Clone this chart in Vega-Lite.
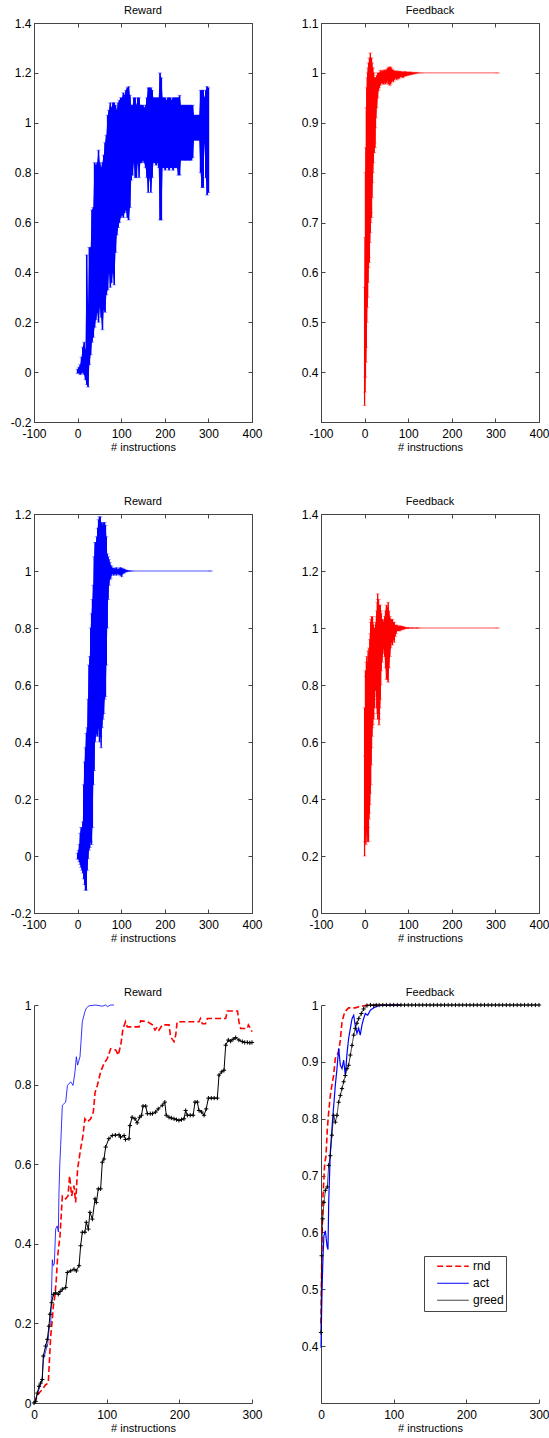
{
"$schema": "https://vega.github.io/schema/vega-lite/v6.json",
"background": "white",
"padding": {"left": 9, "top": 4, "right": 0, "bottom": 0},
"bounds": "flush",
"columns": 2,
"spacing": {"row": 92, "column": 69},
"datasets": {
"p1": [
{"x":0,"lo":-0.005,"hi":0.012},{"x":3,"lo":-0.004,"hi":0.02},{"x":6,"lo":-0.01,"hi":0.03},{"x":9,"lo":-0.005,"hi":0.06},{"x":12,"lo":0,"hi":0.1},{"x":15,"lo":-0.01,"hi":0.12},{"x":18,"lo":-0.03,"hi":0.09},{"x":21,"lo":-0.05,"hi":0.47},{"x":24,"lo":-0.06,"hi":0.27},{"x":27,"lo":0.03,"hi":0.5},{"x":30,"lo":0.07,"hi":0.5},{"x":33,"lo":0.12,"hi":0.65},{"x":36,"lo":0.14,"hi":0.66},{"x":39,"lo":0.18,"hi":0.84},{"x":42,"lo":0.21,"hi":0.83},{"x":45,"lo":0.24,"hi":0.84},{"x":48,"lo":0.2,"hi":0.89},{"x":51,"lo":0.26,"hi":0.84},{"x":54,"lo":0.22,"hi":0.82},{"x":57,"lo":0.17,"hi":0.84},{"x":60,"lo":0.25,"hi":0.87},{"x":63,"lo":0.24,"hi":0.92},{"x":66,"lo":0.31,"hi":0.95},{"x":69,"lo":0.33,"hi":1.03},{"x":72,"lo":0.4,"hi":1.05},{"x":75,"lo":0.34,"hi":1.08},{"x":78,"lo":0.36,"hi":1.06},{"x":81,"lo":0.4,"hi":1.08},{"x":84,"lo":0.35,"hi":1.08},{"x":87,"lo":0.48,"hi":1.07},{"x":90,"lo":0.55,"hi":1.05},{"x":93,"lo":0.58,"hi":1.08},{"x":96,"lo":0.6,"hi":1.09},{"x":99,"lo":0.62,"hi":1.1},{"x":102,"lo":0.63,"hi":1.1},{"x":105,"lo":0.62,"hi":1.12},{"x":108,"lo":0.64,"hi":1.11},{"x":111,"lo":0.65,"hi":1.13},{"x":114,"lo":0.62,"hi":1.14},{"x":117,"lo":0.61,"hi":1.145},{"x":120,"lo":0.66,"hi":1.11},{"x":123,"lo":0.77,"hi":1.07},{"x":126,"lo":0.79,"hi":1.07},{"x":129,"lo":0.84,"hi":1.1},{"x":132,"lo":0.78,"hi":1.1},{"x":135,"lo":0.78,"hi":1.07},{"x":138,"lo":0.84,"hi":1.1},{"x":141,"lo":0.78,"hi":1.1},{"x":144,"lo":0.84,"hi":1.07},{"x":147,"lo":0.84,"hi":1.07},{"x":150,"lo":0.85,"hi":1.07},{"x":153,"lo":0.84,"hi":1.06},{"x":156,"lo":0.82,"hi":1.07},{"x":159,"lo":0.78,"hi":1.1},{"x":162,"lo":0.72,"hi":1.14},{"x":165,"lo":0.78,"hi":1.14},{"x":168,"lo":0.72,"hi":1.14},{"x":171,"lo":0.78,"hi":1.13},{"x":174,"lo":0.84,"hi":1.1},{"x":177,"lo":0.84,"hi":1.1},{"x":180,"lo":0.83,"hi":1.1},{"x":183,"lo":0.84,"hi":1.1},{"x":186,"lo":0.82,"hi":1.1},{"x":189,"lo":0.61,"hi":1.2},{"x":192,"lo":0.61,"hi":1.18},{"x":195,"lo":0.82,"hi":1.1},{"x":198,"lo":0.82,"hi":1.1},{"x":201,"lo":0.81,"hi":1.1},{"x":204,"lo":0.82,"hi":1.09},{"x":207,"lo":0.82,"hi":1.1},{"x":210,"lo":0.81,"hi":1.1},{"x":213,"lo":0.82,"hi":1.1},{"x":216,"lo":0.82,"hi":1.09},{"x":219,"lo":0.81,"hi":1.1},{"x":222,"lo":0.82,"hi":1.1},{"x":225,"lo":0.82,"hi":1.1},{"x":228,"lo":0.82,"hi":1.1},{"x":231,"lo":0.79,"hi":1.1},{"x":234,"lo":0.79,"hi":1.11},{"x":237,"lo":0.85,"hi":1.07},{"x":240,"lo":0.85,"hi":1.07},{"x":243,"lo":0.85,"hi":1.07},{"x":246,"lo":0.85,"hi":1.07},{"x":249,"lo":0.85,"hi":1.07},{"x":252,"lo":0.85,"hi":1.07},{"x":255,"lo":0.85,"hi":1.07},{"x":258,"lo":0.85,"hi":1.07},{"x":261,"lo":0.85,"hi":1.07},{"x":264,"lo":0.86,"hi":1.07},{"x":267,"lo":0.93,"hi":1.03},{"x":270,"lo":0.93,"hi":1.03},{"x":273,"lo":0.93,"hi":1.03},{"x":276,"lo":0.93,"hi":1.03},{"x":279,"lo":0.93,"hi":1.03},{"x":282,"lo":0.8,"hi":1.13},{"x":285,"lo":0.74,"hi":1.13},{"x":288,"lo":0.74,"hi":1.13},{"x":291,"lo":0.92,"hi":1.1},{"x":294,"lo":0.78,"hi":1.13},{"x":297,"lo":0.71,"hi":1.145},{"x":300,"lo":0.72,"hi":1.14}
],
"p2": [
{"x":0,"lo":0.333,"hi":0.57,"m":0.45},{"x":1,"lo":0.36,"hi":0.67,"m":0.52},{"x":2,"lo":0.39,"hi":0.8,"m":0.6},{"x":3,"lo":0.42,"hi":0.85,"m":0.64},{"x":4,"lo":0.45,"hi":0.93,"m":0.69},{"x":5,"lo":0.5,"hi":0.97,"m":0.74},{"x":6,"lo":0.53,"hi":0.99,"m":0.76},{"x":7,"lo":0.55,"hi":1.0,"m":0.78},{"x":8,"lo":0.58,"hi":1.01,"m":0.8},{"x":9,"lo":0.61,"hi":1.02,"m":0.82},{"x":10,"lo":0.63,"hi":1.0,"m":0.82},{"x":11,"lo":0.62,"hi":1.03,"m":0.83},{"x":12,"lo":0.66,"hi":1.02,"m":0.84},{"x":13,"lo":0.68,"hi":1.04,"m":0.86},{"x":14,"lo":0.7,"hi":1.03,"m":0.87},{"x":15,"lo":0.72,"hi":1.02,"m":0.87},{"x":16,"lo":0.71,"hi":1.03,"m":0.87},{"x":17,"lo":0.75,"hi":1.02,"m":0.89},{"x":18,"lo":0.78,"hi":1.01,"m":0.9},{"x":19,"lo":0.8,"hi":1.01,"m":0.9},{"x":20,"lo":0.82,"hi":1.0,"m":0.91},{"x":21,"lo":0.84,"hi":1.0,"m":0.92},{"x":22,"lo":0.84,"hi":0.99,"m":0.92},{"x":23,"lo":0.86,"hi":0.99,"m":0.93},{"x":24,"lo":0.85,"hi":0.99,"m":0.92},{"x":25,"lo":0.89,"hi":0.99,"m":0.94},{"x":26,"lo":0.91,"hi":0.99,"m":0.95},{"x":28,"lo":0.93,"hi":0.995,"m":0.96},{"x":30,"lo":0.95,"hi":1.0,"m":0.975},{"x":32,"lo":0.965,"hi":1.0,"m":0.98},{"x":34,"lo":0.97,"hi":1.0,"m":0.985},{"x":36,"lo":0.975,"hi":1.005,"m":0.99},{"x":38,"lo":0.98,"hi":1.0,"m":0.99},{"x":40,"lo":0.978,"hi":1.005,"m":0.99},{"x":42,"lo":0.98,"hi":1.003,"m":0.99},{"x":44,"lo":0.977,"hi":1.005,"m":0.99},{"x":46,"lo":0.982,"hi":1.006,"m":0.994},{"x":48,"lo":0.978,"hi":1.004,"m":0.99},{"x":50,"lo":0.98,"hi":1.006,"m":0.993},{"x":52,"lo":0.985,"hi":1.008,"m":0.996},{"x":54,"lo":0.977,"hi":1.01,"m":0.994},{"x":56,"lo":0.98,"hi":1.012,"m":0.996},{"x":58,"lo":0.975,"hi":1.01,"m":0.993},{"x":60,"lo":0.978,"hi":1.012,"m":0.995},{"x":62,"lo":0.982,"hi":1.008,"m":0.995},{"x":64,"lo":0.985,"hi":1.006,"m":0.996},{"x":66,"lo":0.982,"hi":1.005,"m":0.994},{"x":68,"lo":0.986,"hi":1.004,"m":0.995},{"x":70,"lo":0.988,"hi":1.003,"m":0.996},{"x":72,"lo":0.99,"hi":1.004,"m":0.997},{"x":74,"lo":0.986,"hi":1.004,"m":0.995},{"x":76,"lo":0.99,"hi":1.002,"m":0.996},{"x":78,"lo":0.988,"hi":1.003,"m":0.996},{"x":80,"lo":0.99,"hi":1.003,"m":0.997},{"x":84,"lo":0.992,"hi":1.003,"m":0.998},{"x":88,"lo":0.99,"hi":1.002,"m":0.996},{"x":92,"lo":0.993,"hi":1.003,"m":0.998},{"x":96,"lo":0.994,"hi":1.002,"m":0.998},{"x":100,"lo":0.995,"hi":1.002,"m":0.999},{"x":105,"lo":0.996,"hi":1.002,"m":0.999},{"x":110,"lo":0.997,"hi":1.001,"m":0.999},{"x":115,"lo":0.998,"hi":1.001,"m":1.0},{"x":120,"lo":0.999,"hi":1.001,"m":1.0},{"x":130,"lo":1.0,"hi":1.0,"m":1.0},{"x":305,"lo":1.0,"hi":1.0,"m":1.0}
],
"p3": [
{"x":0,"lo":-0.01,"hi":0.01,"m":0},{"x":2,"lo":-0.012,"hi":0.02,"m":0.004},{"x":4,"lo":-0.02,"hi":0.04,"m":0.01},{"x":6,"lo":-0.03,"hi":0.08,"m":0.02},{"x":8,"lo":-0.04,"hi":0.1,"m":0.03},{"x":10,"lo":-0.05,"hi":0.1,"m":0.03},{"x":12,"lo":-0.06,"hi":0.12,"m":0.03},{"x":14,"lo":-0.08,"hi":0.25,"m":0.08},{"x":16,"lo":-0.1,"hi":0.33,"m":0.1},{"x":18,"lo":-0.12,"hi":0.38,"m":0.13},{"x":20,"lo":-0.12,"hi":0.43,"m":0.15},{"x":22,"lo":-0.05,"hi":0.45,"m":0.2},{"x":24,"lo":-0.01,"hi":0.55,"m":0.27},{"x":26,"lo":0.02,"hi":0.67,"m":0.34},{"x":28,"lo":0.03,"hi":0.7,"m":0.37},{"x":30,"lo":0.05,"hi":0.8,"m":0.42},{"x":32,"lo":0.04,"hi":0.85,"m":0.45},{"x":34,"lo":0.1,"hi":0.9,"m":0.5},{"x":36,"lo":0.25,"hi":0.95,"m":0.6},{"x":38,"lo":0.3,"hi":1.05,"m":0.67},{"x":40,"lo":0.4,"hi":1.1,"m":0.75},{"x":42,"lo":0.42,"hi":1.1,"m":0.76},{"x":44,"lo":0.43,"hi":1.12,"m":0.78},{"x":46,"lo":0.42,"hi":1.15,"m":0.78},{"x":48,"lo":0.45,"hi":1.18,"m":0.81},{"x":50,"lo":0.4,"hi":1.19,"m":0.8},{"x":52,"lo":0.42,"hi":1.19,"m":0.8},{"x":54,"lo":0.38,"hi":1.17,"m":0.78},{"x":56,"lo":0.45,"hi":1.17,"m":0.81},{"x":58,"lo":0.48,"hi":1.16,"m":0.82},{"x":60,"lo":0.5,"hi":1.17,"m":0.83},{"x":62,"lo":0.55,"hi":1.17,"m":0.86},{"x":64,"lo":0.56,"hi":1.16,"m":0.86},{"x":66,"lo":0.67,"hi":1.12,"m":0.9},{"x":68,"lo":0.8,"hi":1.06,"m":0.93},{"x":70,"lo":0.9,"hi":1.05,"m":0.97},{"x":72,"lo":0.95,"hi":1.04,"m":0.99},{"x":74,"lo":0.97,"hi":1.03,"m":1.0},{"x":76,"lo":0.975,"hi":1.02,"m":1.0},{"x":78,"lo":0.985,"hi":1.015,"m":1.0},{"x":80,"lo":0.99,"hi":1.01,"m":1.0},{"x":83,"lo":0.985,"hi":1.01,"m":0.998},{"x":86,"lo":0.99,"hi":1.008,"m":0.999},{"x":89,"lo":0.985,"hi":1.012,"m":0.999},{"x":92,"lo":0.99,"hi":1.006,"m":0.998},{"x":95,"lo":0.988,"hi":1.008,"m":0.998},{"x":98,"lo":0.985,"hi":1.012,"m":0.999},{"x":101,"lo":0.98,"hi":1.01,"m":0.995},{"x":104,"lo":0.99,"hi":1.008,"m":0.999},{"x":107,"lo":0.993,"hi":1.006,"m":1.0},{"x":110,"lo":0.996,"hi":1.004,"m":1.0},{"x":115,"lo":0.998,"hi":1.002,"m":1.0},{"x":120,"lo":0.999,"hi":1.001,"m":1.0},{"x":125,"lo":1.0,"hi":1.0,"m":1.0},{"x":305,"lo":1.0,"hi":1.0,"m":1.0}
],
"p4": [
{"x":0,"lo":0.2,"hi":0.72,"m":0.45},{"x":1,"lo":0.25,"hi":0.55,"m":0.4},{"x":2,"lo":0.3,"hi":0.85,"m":0.55},{"x":3,"lo":0.24,"hi":0.83,"m":0.5},{"x":4,"lo":0.28,"hi":0.88,"m":0.58},{"x":5,"lo":0.3,"hi":0.9,"m":0.6},{"x":6,"lo":0.25,"hi":0.85,"m":0.55},{"x":7,"lo":0.27,"hi":0.88,"m":0.58},{"x":8,"lo":0.3,"hi":0.92,"m":0.6},{"x":9,"lo":0.25,"hi":0.88,"m":0.57},{"x":10,"lo":0.33,"hi":0.93,"m":0.63},{"x":11,"lo":0.35,"hi":0.9,"m":0.63},{"x":12,"lo":0.38,"hi":0.96,"m":0.67},{"x":13,"lo":0.42,"hi":0.98,"m":0.7},{"x":14,"lo":0.45,"hi":1.02,"m":0.73},{"x":15,"lo":0.52,"hi":1.03,"m":0.77},{"x":16,"lo":0.58,"hi":1.04,"m":0.81},{"x":17,"lo":0.62,"hi":1.03,"m":0.83},{"x":18,"lo":0.65,"hi":1.04,"m":0.85},{"x":19,"lo":0.66,"hi":1.02,"m":0.84},{"x":20,"lo":0.7,"hi":1.01,"m":0.86},{"x":21,"lo":0.68,"hi":1.0,"m":0.84},{"x":22,"lo":0.75,"hi":1.0,"m":0.88},{"x":23,"lo":0.72,"hi":0.99,"m":0.86},{"x":24,"lo":0.8,"hi":1.0,"m":0.9},{"x":25,"lo":0.78,"hi":1.01,"m":0.9},{"x":26,"lo":0.82,"hi":1.02,"m":0.92},{"x":27,"lo":0.76,"hi":1.04,"m":0.9},{"x":28,"lo":0.72,"hi":1.06,"m":0.89},{"x":29,"lo":0.7,"hi":1.09,"m":0.9},{"x":30,"lo":0.68,"hi":1.12,"m":0.9},{"x":31,"lo":0.72,"hi":1.1,"m":0.91},{"x":32,"lo":0.7,"hi":1.1,"m":0.9},{"x":33,"lo":0.66,"hi":1.08,"m":0.87},{"x":34,"lo":0.68,"hi":1.08,"m":0.88},{"x":35,"lo":0.72,"hi":1.06,"m":0.89},{"x":36,"lo":0.75,"hi":1.08,"m":0.91},{"x":37,"lo":0.8,"hi":1.06,"m":0.93},{"x":38,"lo":0.85,"hi":1.05,"m":0.95},{"x":40,"lo":0.88,"hi":1.03,"m":0.96},{"x":42,"lo":0.91,"hi":1.03,"m":0.97},{"x":44,"lo":0.93,"hi":1.02,"m":0.975},{"x":46,"lo":0.9,"hi":1.04,"m":0.97},{"x":48,"lo":0.86,"hi":1.06,"m":0.96},{"x":50,"lo":0.82,"hi":1.08,"m":0.95},{"x":52,"lo":0.82,"hi":1.07,"m":0.95},{"x":54,"lo":0.81,"hi":1.09,"m":0.95},{"x":56,"lo":0.86,"hi":1.06,"m":0.96},{"x":58,"lo":0.9,"hi":1.04,"m":0.97},{"x":60,"lo":0.93,"hi":1.03,"m":0.98},{"x":62,"lo":0.95,"hi":1.03,"m":0.99},{"x":64,"lo":0.94,"hi":1.03,"m":0.985},{"x":66,"lo":0.96,"hi":1.02,"m":0.99},{"x":68,"lo":0.95,"hi":1.02,"m":0.985},{"x":70,"lo":0.97,"hi":1.01,"m":0.99},{"x":72,"lo":0.98,"hi":1.01,"m":0.995},{"x":75,"lo":0.99,"hi":1.01,"m":1.0},{"x":78,"lo":0.99,"hi":1.005,"m":0.998},{"x":81,"lo":0.99,"hi":1.008,"m":0.999},{"x":84,"lo":0.993,"hi":1.006,"m":1.0},{"x":87,"lo":0.995,"hi":1.005,"m":1.0},{"x":90,"lo":0.996,"hi":1.004,"m":1.0},{"x":95,"lo":0.998,"hi":1.002,"m":1.0},{"x":100,"lo":0.998,"hi":1.002,"m":1.0},{"x":110,"lo":0.999,"hi":1.001,"m":1.0},{"x":120,"lo":0.999,"hi":1.001,"m":1.0},{"x":125,"lo":1.0,"hi":1.0,"m":1.0},{"x":305,"lo":1.0,"hi":1.0,"m":1.0}
],
"p5": [
{"s":"rnd","x":0,"y":0},{"s":"rnd","x":6.9,"y":0.025},{"s":"rnd","x":11.5,"y":0.034},{"s":"rnd","x":16,"y":0.046},{"s":"rnd","x":19.7,"y":0.05},{"s":"rnd","x":20.6,"y":0.084},{"s":"rnd","x":23,"y":0.168},{"s":"rnd","x":25.2,"y":0.21},{"s":"rnd","x":26.6,"y":0.244},{"s":"rnd","x":29,"y":0.273},{"s":"rnd","x":30.7,"y":0.311},{"s":"rnd","x":32.6,"y":0.37},{"s":"rnd","x":35.8,"y":0.42},{"s":"rnd","x":39,"y":0.52},{"s":"rnd","x":43.6,"y":0.513},{"s":"rnd","x":46.8,"y":0.52},{"s":"rnd","x":49,"y":0.571},{"s":"rnd","x":51.8,"y":0.52},{"s":"rnd","x":55,"y":0.546},{"s":"rnd","x":57.3,"y":0.504},{"s":"rnd","x":60,"y":0.588},{"s":"rnd","x":64.2,"y":0.639},{"s":"rnd","x":67.4,"y":0.672},{"s":"rnd","x":70,"y":0.714},{"s":"rnd","x":73.4,"y":0.706},{"s":"rnd","x":78,"y":0.714},{"s":"rnd","x":81.7,"y":0.731},{"s":"rnd","x":84,"y":0.78},{"s":"rnd","x":87.2,"y":0.798},{"s":"rnd","x":91.7,"y":0.832},{"s":"rnd","x":96.3,"y":0.853},{"s":"rnd","x":101,"y":0.866},{"s":"rnd","x":105.5,"y":0.89},{"s":"rnd","x":112.4,"y":0.887},{"s":"rnd","x":116,"y":0.874},{"s":"rnd","x":119.7,"y":0.903},{"s":"rnd","x":122.5,"y":0.941},{"s":"rnd","x":126,"y":0.958},{"s":"rnd","x":128.4,"y":0.945},{"s":"rnd","x":144.5,"y":0.945},{"s":"rnd","x":146.8,"y":0.96},{"s":"rnd","x":156,"y":0.958},{"s":"rnd","x":163,"y":0.95},{"s":"rnd","x":166.5,"y":0.937},{"s":"rnd","x":169.7,"y":0.945},{"s":"rnd","x":172,"y":0.937},{"s":"rnd","x":176.6,"y":0.95},{"s":"rnd","x":185.8,"y":0.95},{"s":"rnd","x":188,"y":0.92},{"s":"rnd","x":192.7,"y":0.908},{"s":"rnd","x":195,"y":0.924},{"s":"rnd","x":197,"y":0.958},{"s":"rnd","x":227,"y":0.958},{"s":"rnd","x":229,"y":0.966},{"s":"rnd","x":231.7,"y":0.953},{"s":"rnd","x":236,"y":0.953},{"s":"rnd","x":238.5,"y":0.966},{"s":"rnd","x":263.8,"y":0.966},{"s":"rnd","x":266,"y":0.985},{"s":"rnd","x":280,"y":0.985},{"s":"rnd","x":282,"y":0.958},{"s":"rnd","x":284.4,"y":0.941},{"s":"rnd","x":293.6,"y":0.941},{"s":"rnd","x":295,"y":0.95},{"s":"rnd","x":298,"y":0.941},{"s":"rnd","x":300,"y":0.933},
{"s":"act","x":0,"y":0},{"s":"act","x":4,"y":0.02},{"s":"act","x":8,"y":0.04},{"s":"act","x":11,"y":0.06},{"s":"act","x":13,"y":0.11},{"s":"act","x":16,"y":0.13},{"s":"act","x":19,"y":0.15},{"s":"act","x":21,"y":0.19},{"s":"act","x":23,"y":0.2},{"s":"act","x":24,"y":0.27},{"s":"act","x":25.2,"y":0.36},{"s":"act","x":26.5,"y":0.345},{"s":"act","x":28,"y":0.35},{"s":"act","x":29.8,"y":0.437},{"s":"act","x":32,"y":0.445},{"s":"act","x":33.5,"y":0.43},{"s":"act","x":34.4,"y":0.53},{"s":"act","x":35.5,"y":0.6},{"s":"act","x":36.7,"y":0.647},{"s":"act","x":39,"y":0.748},{"s":"act","x":43.6,"y":0.756},{"s":"act","x":46,"y":0.798},{"s":"act","x":50.5,"y":0.807},{"s":"act","x":53.7,"y":0.798},{"s":"act","x":56.4,"y":0.832},{"s":"act","x":58.3,"y":0.87},{"s":"act","x":60,"y":0.849},{"s":"act","x":63.3,"y":0.87},{"s":"act","x":64.7,"y":0.908},{"s":"act","x":66.5,"y":0.958},{"s":"act","x":70,"y":0.983},{"s":"act","x":72,"y":0.992},{"s":"act","x":75.7,"y":0.998},{"s":"act","x":85,"y":1.0},{"s":"act","x":94,"y":0.997},{"s":"act","x":98.6,"y":1.0},{"s":"act","x":101,"y":0.996},{"s":"act","x":105.5,"y":1.0},{"s":"act","x":110,"y":1.0},
{"s":"greed","x":0,"y":0},{"s":"greed","x":2.3,"y":0.004},{"s":"greed","x":4.6,"y":0.025},{"s":"greed","x":6.9,"y":0.042},{"s":"greed","x":9.2,"y":0.05},{"s":"greed","x":11.5,"y":0.059},{"s":"greed","x":12.8,"y":0.118},{"s":"greed","x":16,"y":0.143},{"s":"greed","x":18.3,"y":0.16},{"s":"greed","x":20.6,"y":0.193},{"s":"greed","x":22,"y":0.223},{"s":"greed","x":24.3,"y":0.252},{"s":"greed","x":26.6,"y":0.273},{"s":"greed","x":29.8,"y":0.277},{"s":"greed","x":33.5,"y":0.273},{"s":"greed","x":36,"y":0.28},{"s":"greed","x":39,"y":0.286},{"s":"greed","x":43.6,"y":0.29},{"s":"greed","x":45.9,"y":0.328},{"s":"greed","x":50.5,"y":0.332},{"s":"greed","x":55,"y":0.336},{"s":"greed","x":58.3,"y":0.332},{"s":"greed","x":62,"y":0.345},{"s":"greed","x":64.2,"y":0.395},{"s":"greed","x":66.5,"y":0.429},{"s":"greed","x":70,"y":0.429},{"s":"greed","x":72,"y":0.454},{"s":"greed","x":74.8,"y":0.437},{"s":"greed","x":77,"y":0.479},{"s":"greed","x":80.3,"y":0.462},{"s":"greed","x":84,"y":0.513},{"s":"greed","x":85.8,"y":0.504},{"s":"greed","x":88.5,"y":0.538},{"s":"greed","x":91.7,"y":0.538},{"s":"greed","x":94,"y":0.605},{"s":"greed","x":96.3,"y":0.613},{"s":"greed","x":98.6,"y":0.643},{"s":"greed","x":103,"y":0.664},{"s":"greed","x":107.8,"y":0.672},{"s":"greed","x":112,"y":0.673},{"s":"greed","x":117,"y":0.674},{"s":"greed","x":119,"y":0.668},{"s":"greed","x":124,"y":0.672},{"s":"greed","x":126,"y":0.662},{"s":"greed","x":130.7,"y":0.664},{"s":"greed","x":132,"y":0.697},{"s":"greed","x":135,"y":0.718},{"s":"greed","x":139,"y":0.714},{"s":"greed","x":142,"y":0.704},{"s":"greed","x":145.4,"y":0.718},{"s":"greed","x":148,"y":0.723},{"s":"greed","x":150,"y":0.746},{"s":"greed","x":153.7,"y":0.746},{"s":"greed","x":156,"y":0.727},{"s":"greed","x":160,"y":0.727},{"s":"greed","x":163,"y":0.727},{"s":"greed","x":167.4,"y":0.731},{"s":"greed","x":171,"y":0.739},{"s":"greed","x":176.6,"y":0.748},{"s":"greed","x":180,"y":0.756},{"s":"greed","x":182,"y":0.723},{"s":"greed","x":185.8,"y":0.718},{"s":"greed","x":189,"y":0.716},{"s":"greed","x":192.7,"y":0.714},{"s":"greed","x":196,"y":0.712},{"s":"greed","x":199.5,"y":0.71},{"s":"greed","x":203,"y":0.712},{"s":"greed","x":206.4,"y":0.714},{"s":"greed","x":208.7,"y":0.735},{"s":"greed","x":211,"y":0.723},{"s":"greed","x":215,"y":0.723},{"s":"greed","x":219,"y":0.723},{"s":"greed","x":221.6,"y":0.756},{"s":"greed","x":224.8,"y":0.756},{"s":"greed","x":227,"y":0.735},{"s":"greed","x":230.7,"y":0.731},{"s":"greed","x":234,"y":0.723},{"s":"greed","x":237,"y":0.739},{"s":"greed","x":240,"y":0.766},{"s":"greed","x":244,"y":0.766},{"s":"greed","x":248,"y":0.766},{"s":"greed","x":252.3,"y":0.766},{"s":"greed","x":254.6,"y":0.824},{"s":"greed","x":258.3,"y":0.832},{"s":"greed","x":261.5,"y":0.836},{"s":"greed","x":263.8,"y":0.899},{"s":"greed","x":267.4,"y":0.912},{"s":"greed","x":270.6,"y":0.909},{"s":"greed","x":274,"y":0.914},{"s":"greed","x":277.5,"y":0.918},{"s":"greed","x":282,"y":0.912},{"s":"greed","x":286.7,"y":0.908},{"s":"greed","x":290,"y":0.906},{"s":"greed","x":293.6,"y":0.906},{"s":"greed","x":297,"y":0.905},{"s":"greed","x":300,"y":0.906}
],
"p6": [
{"s":"rnd","x":0,"y":0.44},{"s":"rnd","x":1.4,"y":0.594},{"s":"rnd","x":2.8,"y":0.665},{"s":"rnd","x":5,"y":0.72},{"s":"rnd","x":6.9,"y":0.735},{"s":"rnd","x":8.7,"y":0.782},{"s":"rnd","x":10.6,"y":0.812},{"s":"rnd","x":12.8,"y":0.841},{"s":"rnd","x":15,"y":0.859},{"s":"rnd","x":17.4,"y":0.876},{"s":"rnd","x":19.7,"y":0.906},{"s":"rnd","x":22,"y":0.912},{"s":"rnd","x":24.3,"y":0.918},{"s":"rnd","x":26.6,"y":0.938},{"s":"rnd","x":28.9,"y":0.97},{"s":"rnd","x":32.6,"y":0.988},{"s":"rnd","x":38,"y":0.995},{"s":"rnd","x":47,"y":0.995},{"s":"rnd","x":52,"y":0.997},{"s":"rnd","x":65.6,"y":1.0},{"s":"rnd","x":110,"y":1.0},
{"s":"act","x":0,"y":0.397},{"s":"act","x":1.4,"y":0.5},{"s":"act","x":2.8,"y":0.559},{"s":"act","x":4,"y":0.594},{"s":"act","x":6,"y":0.603},{"s":"act","x":8.3,"y":0.576},{"s":"act","x":9.6,"y":0.57},{"s":"act","x":10.6,"y":0.653},{"s":"act","x":12.8,"y":0.741},{"s":"act","x":16,"y":0.8},{"s":"act","x":17.9,"y":0.829},{"s":"act","x":19.7,"y":0.859},{"s":"act","x":22,"y":0.888},{"s":"act","x":24.3,"y":0.924},{"s":"act","x":26.6,"y":0.894},{"s":"act","x":28.9,"y":0.888},{"s":"act","x":31.2,"y":0.903},{"s":"act","x":33.5,"y":0.876},{"s":"act","x":35.8,"y":0.915},{"s":"act","x":38,"y":0.941},{"s":"act","x":42.7,"y":0.976},{"s":"act","x":45,"y":0.982},{"s":"act","x":47,"y":0.965},{"s":"act","x":49.5,"y":0.95},{"s":"act","x":51.8,"y":0.959},{"s":"act","x":54,"y":0.947},{"s":"act","x":56.4,"y":0.965},{"s":"act","x":58.7,"y":0.976},{"s":"act","x":61,"y":0.985},{"s":"act","x":64.2,"y":0.982},{"s":"act","x":68,"y":0.991},{"s":"act","x":72.5,"y":0.995},{"s":"act","x":79.4,"y":0.999},{"s":"act","x":110,"y":1.0},
{"s":"greed","x":0,"y":0.424},{"s":"greed","x":0.9,"y":0.559},{"s":"greed","x":2.3,"y":0.624},{"s":"greed","x":4.1,"y":0.653},{"s":"greed","x":6,"y":0.674},{"s":"greed","x":8.7,"y":0.68},{"s":"greed","x":10.6,"y":0.718},{"s":"greed","x":12.8,"y":0.735},{"s":"greed","x":15,"y":0.771},{"s":"greed","x":17.4,"y":0.806},{"s":"greed","x":19.7,"y":0.794},{"s":"greed","x":22,"y":0.806},{"s":"greed","x":24.3,"y":0.829},{"s":"greed","x":26.6,"y":0.841},{"s":"greed","x":28.9,"y":0.853},{"s":"greed","x":31.2,"y":0.865},{"s":"greed","x":33.5,"y":0.876},{"s":"greed","x":35.8,"y":0.888},{"s":"greed","x":38,"y":0.894},{"s":"greed","x":40.4,"y":0.912},{"s":"greed","x":42.7,"y":0.929},{"s":"greed","x":45,"y":0.947},{"s":"greed","x":47.2,"y":0.959},{"s":"greed","x":49.5,"y":0.968},{"s":"greed","x":51.8,"y":0.976},{"s":"greed","x":55.5,"y":0.985},{"s":"greed","x":58.7,"y":0.993},{"s":"greed","x":63.3,"y":0.999},{"s":"greed","x":68,"y":1.0},{"s":"greed","x":72.5,"y":0.999},{"s":"greed","x":76,"y":1.0},{"s":"greed","x":80,"y":1.0},{"s":"greed","x":85,"y":1.0},{"s":"greed","x":90,"y":1.0},{"s":"greed","x":95,"y":1.0},{"s":"greed","x":100,"y":1.0},{"s":"greed","x":105,"y":1.0},{"s":"greed","x":110,"y":1.0},{"s":"greed","x":115,"y":1.0},{"s":"greed","x":120,"y":1.0},{"s":"greed","x":125,"y":1.0},{"s":"greed","x":130,"y":1.0},{"s":"greed","x":135,"y":1.0},{"s":"greed","x":140,"y":1.0},{"s":"greed","x":145,"y":1.0},{"s":"greed","x":150,"y":1.0},{"s":"greed","x":155,"y":1.0},{"s":"greed","x":160,"y":1.0},{"s":"greed","x":165,"y":1.0},{"s":"greed","x":170,"y":1.0},{"s":"greed","x":175,"y":1.0},{"s":"greed","x":180,"y":1.0},{"s":"greed","x":185,"y":1.0},{"s":"greed","x":190,"y":1.0},{"s":"greed","x":195,"y":1.0},{"s":"greed","x":200,"y":1.0},{"s":"greed","x":205,"y":1.0},{"s":"greed","x":210,"y":1.0},{"s":"greed","x":215,"y":1.0},{"s":"greed","x":220,"y":1.0},{"s":"greed","x":225,"y":1.0},{"s":"greed","x":230,"y":1.0},{"s":"greed","x":235,"y":1.0},{"s":"greed","x":240,"y":1.0},{"s":"greed","x":245,"y":1.0},{"s":"greed","x":250,"y":1.0},{"s":"greed","x":255,"y":1.0},{"s":"greed","x":260,"y":1.0},{"s":"greed","x":265,"y":1.0},{"s":"greed","x":270,"y":1.0},{"s":"greed","x":275,"y":1.0},{"s":"greed","x":280,"y":1.0},{"s":"greed","x":285,"y":1.0},{"s":"greed","x":290,"y":1.0},{"s":"greed","x":295,"y":1.0},{"s":"greed","x":300,"y":1.0}
]
},
"concat": [
 {"width": 218, "height": 399, "title": "Reward", "view": {"stroke": "#444"}, "data": {"name": "p1"},
  "resolve": {"axis": {"x": "independent", "y": "independent"}},
  "layer": [
   {"mark": {"type": "tick", "orient": "horizontal", "color": "#7777ff", "size": 4, "thickness": 1},
    "encoding": {
     "x": {"field": "x", "type": "quantitative", "scale": {"domain": [-100, 400], "nice": false, "zero": false}, "axis": {"orient": "top", "values": [-100, 0, 100, 200, 300, 400], "labels": false, "domain": false, "title": null}},
     "y": {"field": "hi", "type": "quantitative", "scale": {"domain": [-0.2, 1.4], "nice": false, "zero": false}, "axis": {"orient": "right", "values": [-0.2, 0, 0.2, 0.4, 0.6, 0.8, 1, 1.2, 1.4], "labels": false, "domain": false, "title": null}}}},
   {"mark": {"type": "tick", "orient": "horizontal", "color": "#7777ff", "size": 4, "thickness": 1},
    "encoding": {
     "x": {"field": "x", "type": "quantitative", "axis": null},
     "y": {"field": "lo", "type": "quantitative", "axis": null}}},
   {"mark": {"type": "area", "color": "#0000ff", "opacity": 1},
    "encoding": {"x": {"field": "x", "type": "quantitative", "axis": null}, "y": {"field": "lo", "type": "quantitative", "axis": null}, "y2": {"field": "hi"}}},
   {"mark": {"type": "rule", "color": "#0000ff", "strokeWidth": 1.6},
    "encoding": {
     "x": {"field": "x", "type": "quantitative", "scale": {"domain": [-100, 400], "nice": false, "zero": false}, "axis": {"values": [-100, 0, 100, 200, 300, 400], "labelExpr": "'' + datum.value", "title": "# instructions"}},
     "y": {"field": "lo", "type": "quantitative", "scale": {"domain": [-0.2, 1.4], "nice": false, "zero": false}, "axis": {"values": [-0.2, 0, 0.2, 0.4, 0.6, 0.8, 1, 1.2, 1.4], "labelExpr": "'' + datum.value", "title": null}},
     "y2": {"field": "hi"}}}
  ]},
 {"width": 218, "height": 399, "title": "Feedback", "view": {"stroke": "#444"}, "data": {"name": "p2"},
  "resolve": {"axis": {"x": "independent", "y": "independent"}},
  "layer": [
   {"mark": {"type": "line", "color": "#ff5555", "strokeWidth": 1},
    "encoding": {"x": {"field": "x", "type": "quantitative", "axis": null}, "y": {"field": "m", "type": "quantitative", "axis": null}}},
   {"mark": {"type": "tick", "orient": "horizontal", "color": "#ff7777", "size": 4, "thickness": 1},
    "encoding": {
     "x": {"field": "x", "type": "quantitative", "scale": {"domain": [-100, 400], "nice": false, "zero": false}, "axis": {"orient": "top", "values": [-100, 0, 100, 200, 300, 400], "labels": false, "domain": false, "title": null}},
     "y": {"field": "hi", "type": "quantitative", "scale": {"domain": [0.3, 1.1], "nice": false, "zero": false}, "axis": {"orient": "right", "values": [0.4, 0.5, 0.6, 0.7, 0.8, 0.9, 1, 1.1], "labels": false, "domain": false, "title": null}}}},
   {"mark": {"type": "tick", "orient": "horizontal", "color": "#ff7777", "size": 4, "thickness": 1},
    "encoding": {"x": {"field": "x", "type": "quantitative", "axis": null}, "y": {"field": "lo", "type": "quantitative", "axis": null}}},
   {"mark": {"type": "area", "color": "#ff0000", "opacity": 1},
    "encoding": {"x": {"field": "x", "type": "quantitative", "axis": null}, "y": {"field": "lo", "type": "quantitative", "axis": null}, "y2": {"field": "hi"}}},
   {"mark": {"type": "rule", "color": "#ff0000", "strokeWidth": 1.3},
    "encoding": {
     "x": {"field": "x", "type": "quantitative", "scale": {"domain": [-100, 400], "nice": false, "zero": false}, "axis": {"values": [-100, 0, 100, 200, 300, 400], "labelExpr": "'' + datum.value", "title": "# instructions"}},
     "y": {"field": "lo", "type": "quantitative", "scale": {"domain": [0.3, 1.1], "nice": false, "zero": false}, "axis": {"values": [0.4, 0.5, 0.6, 0.7, 0.8, 0.9, 1, 1.1], "labelExpr": "'' + datum.value", "title": null}},
     "y2": {"field": "hi"}}}
  ]},
 {"width": 218, "height": 399, "title": "Reward", "view": {"stroke": "#444"}, "data": {"name": "p3"},
  "resolve": {"axis": {"x": "independent", "y": "independent"}},
  "layer": [
   {"mark": {"type": "line", "color": "#5555ff", "strokeWidth": 1},
    "encoding": {"x": {"field": "x", "type": "quantitative", "axis": null}, "y": {"field": "m", "type": "quantitative", "axis": null}}},
   {"mark": {"type": "tick", "orient": "horizontal", "color": "#7777ff", "size": 4, "thickness": 1},
    "encoding": {
     "x": {"field": "x", "type": "quantitative", "scale": {"domain": [-100, 400], "nice": false, "zero": false}, "axis": {"orient": "top", "values": [-100, 0, 100, 200, 300, 400], "labels": false, "domain": false, "title": null}},
     "y": {"field": "hi", "type": "quantitative", "scale": {"domain": [-0.2, 1.2], "nice": false, "zero": false}, "axis": {"orient": "right", "values": [-0.2, 0, 0.2, 0.4, 0.6, 0.8, 1, 1.2], "labels": false, "domain": false, "title": null}}}},
   {"mark": {"type": "tick", "orient": "horizontal", "color": "#7777ff", "size": 4, "thickness": 1},
    "encoding": {"x": {"field": "x", "type": "quantitative", "axis": null}, "y": {"field": "lo", "type": "quantitative", "axis": null}}},
   {"mark": {"type": "area", "color": "#0000ff", "opacity": 1},
    "encoding": {"x": {"field": "x", "type": "quantitative", "axis": null}, "y": {"field": "lo", "type": "quantitative", "axis": null}, "y2": {"field": "hi"}}},
   {"mark": {"type": "rule", "color": "#0000ff", "strokeWidth": 1.3},
    "encoding": {
     "x": {"field": "x", "type": "quantitative", "scale": {"domain": [-100, 400], "nice": false, "zero": false}, "axis": {"values": [-100, 0, 100, 200, 300, 400], "labelExpr": "'' + datum.value", "title": "# instructions"}},
     "y": {"field": "lo", "type": "quantitative", "scale": {"domain": [-0.2, 1.2], "nice": false, "zero": false}, "axis": {"values": [-0.2, 0, 0.2, 0.4, 0.6, 0.8, 1, 1.2], "labelExpr": "'' + datum.value", "title": null}},
     "y2": {"field": "hi"}}}
  ]},
 {"width": 218, "height": 399, "title": "Feedback", "view": {"stroke": "#444"}, "data": {"name": "p4"},
  "resolve": {"axis": {"x": "independent", "y": "independent"}},
  "layer": [
   {"mark": {"type": "line", "color": "#ff5555", "strokeWidth": 1},
    "encoding": {"x": {"field": "x", "type": "quantitative", "axis": null}, "y": {"field": "m", "type": "quantitative", "axis": null}}},
   {"mark": {"type": "tick", "orient": "horizontal", "color": "#ff7777", "size": 4, "thickness": 1},
    "encoding": {
     "x": {"field": "x", "type": "quantitative", "scale": {"domain": [-100, 400], "nice": false, "zero": false}, "axis": {"orient": "top", "values": [-100, 0, 100, 200, 300, 400], "labels": false, "domain": false, "title": null}},
     "y": {"field": "hi", "type": "quantitative", "scale": {"domain": [0, 1.4], "nice": false, "zero": false}, "axis": {"orient": "right", "values": [0, 0.2, 0.4, 0.6, 0.8, 1, 1.2, 1.4], "labels": false, "domain": false, "title": null}}}},
   {"mark": {"type": "tick", "orient": "horizontal", "color": "#ff7777", "size": 4, "thickness": 1},
    "encoding": {"x": {"field": "x", "type": "quantitative", "axis": null}, "y": {"field": "lo", "type": "quantitative", "axis": null}}},
   {"mark": {"type": "area", "color": "#ff0000", "opacity": 1},
    "encoding": {"x": {"field": "x", "type": "quantitative", "axis": null}, "y": {"field": "lo", "type": "quantitative", "axis": null}, "y2": {"field": "hi"}}},
   {"mark": {"type": "rule", "color": "#ff0000", "strokeWidth": 1.3},
    "encoding": {
     "x": {"field": "x", "type": "quantitative", "scale": {"domain": [-100, 400], "nice": false, "zero": false}, "axis": {"values": [-100, 0, 100, 200, 300, 400], "labelExpr": "'' + datum.value", "title": "# instructions"}},
     "y": {"field": "lo", "type": "quantitative", "scale": {"domain": [0, 1.4], "nice": false, "zero": false}, "axis": {"values": [0, 0.2, 0.4, 0.6, 0.8, 1, 1.2, 1.4], "labelExpr": "'' + datum.value", "title": null}},
     "y2": {"field": "hi"}}}
  ]},
 {"width": 218, "height": 398, "title": "Reward", "data": {"name": "p5"},
  "layer": [
   {"transform": [{"filter": "datum.s == 'rnd'"}],
    "mark": {"type": "line", "color": "#ff0000", "strokeWidth": 1.6, "strokeDash": [6, 3]},
    "encoding": {
     "x": {"field": "x", "type": "quantitative", "scale": {"domain": [0, 300], "nice": false, "zero": false}, "axis": {"values": [0, 100, 200, 300], "labelExpr": "'' + datum.value", "title": "# instructions"}},
     "y": {"field": "y", "type": "quantitative", "scale": {"domain": [0, 1], "nice": false, "zero": false}, "axis": {"values": [0, 0.1, 0.2, 0.3, 0.4, 0.5, 0.6, 0.7, 0.8, 0.9, 1], "labelExpr": "'' + datum.value", "title": null}}}},
   {"transform": [{"filter": "datum.s == 'act'"}],
    "mark": {"type": "line", "color": "#0000ff", "strokeWidth": 0.8},
    "encoding": {"x": {"field": "x", "type": "quantitative"}, "y": {"field": "y", "type": "quantitative"}}},
   {"transform": [{"filter": "datum.s == 'greed'"}],
    "mark": {"type": "line", "color": "#000000", "strokeWidth": 1},
    "encoding": {"x": {"field": "x", "type": "quantitative"}, "y": {"field": "y", "type": "quantitative"}}},
   {"transform": [{"filter": "datum.s == 'greed'"}],
    "mark": {"type": "point", "shape": "M-1,0H1M0,-1V1", "filled": false, "color": "#000000", "strokeWidth": 1, "size": 18, "opacity": 1},
    "encoding": {"x": {"field": "x", "type": "quantitative"}, "y": {"field": "y", "type": "quantitative"}}}
  ]},
 {"width": 218, "height": 398, "title": "Feedback", "data": {"name": "p6"},
  "layer": [
   {"mark": {"type": "line"},
    "encoding": {
     "x": {"field": "x", "type": "quantitative", "scale": {"domain": [0, 300], "nice": false, "zero": false}, "axis": {"values": [0, 100, 200, 300], "labelExpr": "'' + datum.value", "title": "# instructions"}},
     "y": {"field": "y", "type": "quantitative", "scale": {"domain": [0.3, 1], "nice": false, "zero": false}, "axis": {"values": [0.4, 0.5, 0.6, 0.7, 0.8, 0.9, 1], "labelExpr": "'' + datum.value", "title": null}},
     "color": {"field": "s", "type": "nominal", "sort": ["rnd", "act", "greed"], "scale": {"domain": ["rnd", "act", "greed"], "range": ["#ff0000", "#0000ff", "#000000"]},
       "legend": {"orient": "none", "legendX": 390, "legendY": 1233, "title": null, "symbolType": "stroke", "symbolSize": 1000, "symbolStrokeWidth": 1.2, "symbolOffset": 10, "clipHeight": 16.5, "labelFontSize": 12, "labelFont": "Liberation Sans", "labelColor": "#000", "fillColor": "white", "strokeColor": "#444", "padding": 2, "rowPadding": 0, "labelOffset": 3}},
     "strokeDash": {"field": "s", "type": "nominal", "sort": ["rnd", "act", "greed"], "scale": {"domain": ["rnd", "act", "greed"], "range": [[6, 3], [1, 0], [1, 0]]},
       "legend": {"orient": "none", "legendX": 390, "legendY": 1233, "title": null, "symbolType": "stroke", "symbolSize": 1000, "symbolStrokeWidth": 1.2, "symbolOffset": 10, "clipHeight": 16.5, "labelFontSize": 12, "labelFont": "Liberation Sans", "labelColor": "#000", "fillColor": "white", "strokeColor": "#444", "padding": 2, "rowPadding": 0, "labelOffset": 3}},
     "strokeWidth": {"field": "s", "type": "nominal", "sort": ["rnd", "act", "greed"], "scale": {"domain": ["rnd", "act", "greed"], "range": [1.6, 0.8, 1]}, "legend": null},
     "order": {"field": "x", "type": "quantitative"}}},
   {"transform": [{"filter": "datum.s == 'greed'"}],
    "mark": {"type": "point", "shape": "M-1,0H1M0,-1V1", "filled": false, "color": "#000000", "strokeWidth": 1, "size": 18, "opacity": 1},
    "encoding": {"x": {"field": "x", "type": "quantitative"}, "y": {"field": "y", "type": "quantitative"}}}
  ]}
],
"config": {
 "font": "Liberation Sans",
 "view": {"stroke": null},
 "axis": {"labelFont": "Liberation Sans", "labelFontSize": 12, "labelColor": "#000", "titleFont": "Liberation Sans", "titleFontSize": 11, "titleFontWeight": "normal", "titleColor": "#000", "domainColor": "#444", "tickColor": "#444", "tickSize": -4, "grid": false, "labelFlush": false, "labelOverlap": false},
 "axisX": {"labelPadding": 10, "titlePadding": 2},
 "axisY": {"labelPadding": 7},
 "title": {"font": "Liberation Sans", "fontSize": 11, "fontWeight": "normal", "color": "#000", "offset": 1.3}
}
}
